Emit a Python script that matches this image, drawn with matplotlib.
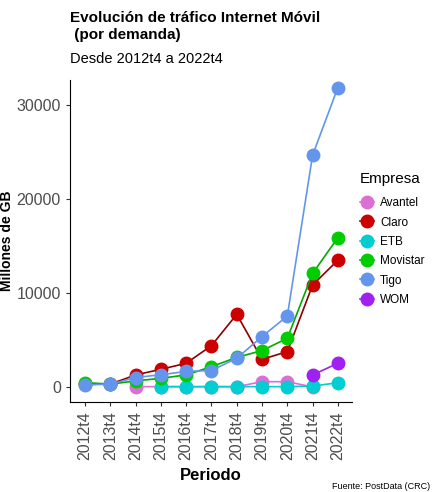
import numpy as np
import matplotlib.pyplot as plt

plt.rcParams['font.family'] = ['Liberation Sans', 'DejaVu Sans']

periodos = ['2012t4', '2013t4', '2014t4', '2015t4', '2016t4', '2017t4',
            '2018t4', '2019t4', '2020t4', '2021t4', '2022t4']
nan = np.nan

avantel = [nan, nan, 30, 30, 30, 30, 30, 560, 560, 0, nan]
claro = [300, 300, 1280, 1880, 2520, 4400, 7730, 2940, 3760, 10850, 13500]
etb = [nan, nan, nan, 30, 30, 30, 30, 30, 30, 100, 440]
movistar = [460, 300, 640, 920, 1280, 2160, 3150, 3870, 5180, 12090, 15890]
tigo = [210, 300, 1000, 1300, 1650, 1750, 3050, 5360, 7550, 24680, 31880]
wom = [nan, nan, nan, nan, nan, nan, nan, nan, nan, 1280, 2520]

empresas = ['Avantel', 'Claro', 'ETB', 'Movistar', 'Tigo', 'WOM']
series = [avantel, claro, etb, movistar, tigo, wom]
colores = ['#DA70D6', '#CD0000', '#00CED1', '#00CD00', '#6495ED', '#A020F0']
lineas = ['#DA70D6', '#8B0000', '#00CED1', '#00AA00', '#6495ED', '#A020F0']

fig = plt.figure(figsize=(4.37, 4.92), dpi=100)
ax = fig.add_axes([0.160, 0.183, 0.645, 0.654])

x = np.arange(len(periodos))
for nombre, y, c, lc in zip(empresas, series, colores, lineas):
    ax.plot(x, y, color=lc, linewidth=1.2, marker='o', markersize=9,
            markerfacecolor=c, markeredgecolor=c, label=nombre)

ax.set_xlim(-0.6, 10.55)
ax.set_ylim(-1600, 32660)
ax.set_xticks(x)
ax.set_xticklabels(periodos, rotation=90, fontsize=11.5, color='#4d4d4d')
ax.set_yticks([0, 10000, 20000, 30000])
ax.set_yticklabels(['0', '10000', '20000', '30000'], fontsize=11.5, color='#4d4d4d')
for s in ['top', 'right']:
    ax.spines[s].set_visible(False)
ax.tick_params(length=3, color='#333333')

ax.set_xlabel('Periodo', fontsize=12, fontweight='bold', labelpad=6)
ax.set_ylabel('Millones de GB', fontsize=10, fontweight='bold', labelpad=2)

fig.text(0.160, 0.978, 'Evolución de tráfico Internet Móvil\n (por demanda)',
         fontsize=11, fontweight='bold', va='top', ha='left', linespacing=1.3)
fig.text(0.160, 0.895, 'Desde 2012t4 a 2022t4', fontsize=10.5, va='top', ha='left')
fig.text(0.985, 0.002, 'Fuente: PostData (CRC)', fontsize=6.5, ha='right', va='bottom')

leg = ax.legend(title='Empresa', loc='upper left', bbox_to_anchor=(1.0, 0.74),
                frameon=False, fontsize=8.5, title_fontsize=11, handlelength=1.2,
                handletextpad=0.5, labelspacing=0.62, borderaxespad=0.3)
leg._legend_box.align = 'left'
leg._legend_box.sep = 8

fig.savefig('out.png', dpi=100)
